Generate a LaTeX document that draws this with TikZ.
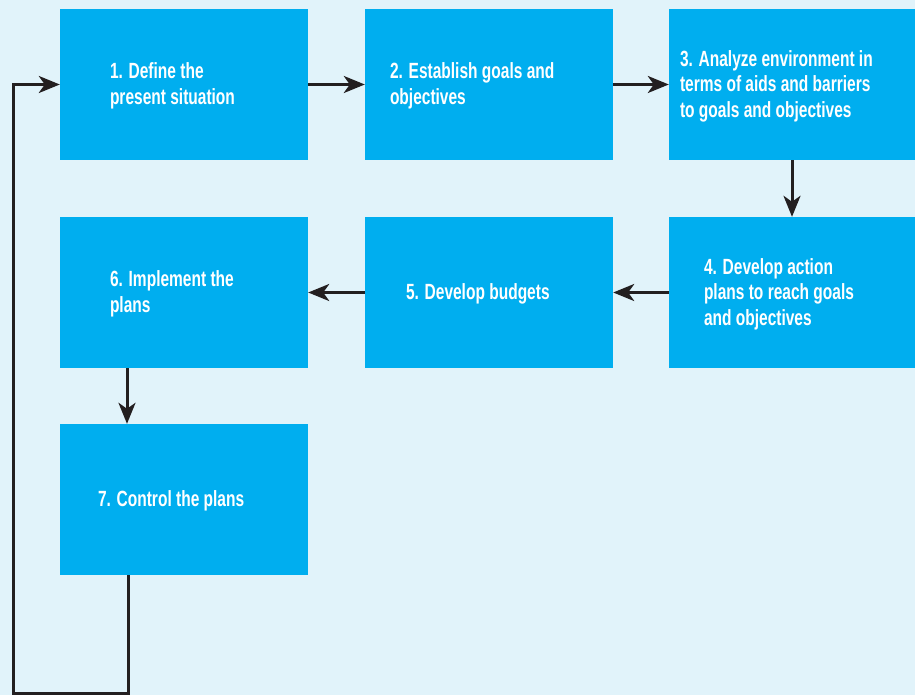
\documentclass[tikz,border=0pt]{standalone}
\usepackage{fontspec}
\newfontfamily\condfont[FakeStretch=0.705]{Liberation Sans}
\usetikzlibrary{arrows.meta}
\definecolor{pagebg}{RGB}{225,243,250}
\definecolor{boxblue}{RGB}{0,174,239}
\definecolor{arrowink}{RGB}{35,31,32}
\begin{document}
\begin{tikzpicture}[x=1pt,y=1pt,
  stepbox/.style={fill=boxblue, draw=none, minimum width=248pt, minimum height=151pt, inner sep=0pt},
  steplabel/.style={anchor=west, inner sep=0pt, align=left, text=white, yshift=-1.5pt,
    font=\condfont\bfseries\fontsize{22}{25.5}\selectfont},
  flow/.style={draw=arrowink, line width=3pt,
    -{Stealth[length=21pt,width=17pt,inset=6pt]}}]
  % page and background
  \useasboundingbox (0,0) rectangle (915,-695);
  \fill[pagebg] (0,0) rectangle (915,-695);

  % step boxes
  \node[stepbox] (b1) at (184,-84.5) {};
  \node[stepbox] (b2) at (489,-84.5) {};
  \node[stepbox, minimum width=246pt] (b3) at (792,-84.5) {};
  \node[stepbox, minimum width=246pt] (b4) at (792,-292.5) {};
  \node[stepbox] (b5) at (489,-292.5) {};
  \node[stepbox] (b6) at (184,-292.5) {};
  \node[stepbox] (b7) at (184,-499.5) {};

  % step texts
  \node[steplabel] (t1) at ([xshift=50pt]b1.west) {1. Define the\\present situation};
  \node[steplabel] (t2) at ([xshift=25pt]b2.west) {2. Establish goals and\\objectives};
  \node[steplabel] (t3) at ([xshift=11pt]b3.west) {3. Analyze environment in\\terms of aids and barriers\\to goals and objectives};
  \node[steplabel] (t4) at ([xshift=35pt]b4.west) {4. Develop action\\plans to reach goals\\and objectives};
  \node[steplabel] (t5) at ([xshift=41pt]b5.west) {5. Develop budgets};
  \node[steplabel] (t6) at ([xshift=50pt]b6.west) {6. Implement the\\plans};
  \node[steplabel] (t7) at ([xshift=38pt]b7.west) {7. Control the plans};

  % connectors
  \draw[flow] (b1.east) -- (b2.west);
  \draw[flow] (b2.east) -- (b3.west);
  \draw[flow] (b3.south) -- (b4.north);
  \draw[flow] (b4.west) -- (b5.east);
  \draw[flow] (b5.west) -- (b6.east);
  \draw[flow] ([xshift=-57pt]b6.south) -- ([xshift=-57pt]b7.north);

  % feedback loop back to the first step
  \coordinate (loop) at (13,-693);
  \draw[flow] ([xshift=-56pt]b7.south) |- (loop) |- (b1.west);
\end{tikzpicture}
\end{document}
